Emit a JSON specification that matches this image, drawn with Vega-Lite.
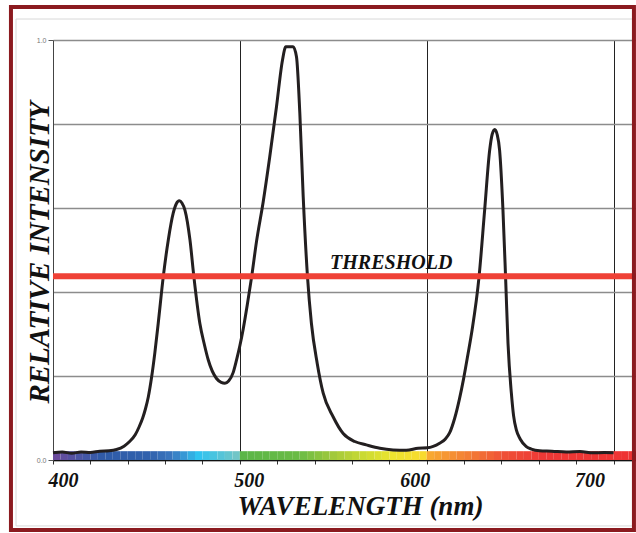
{
  "$schema": "https://vega.github.io/schema/vega-lite/v6.json",
  "width": 583,
  "height": 420,
  "autosize": "none",
  "padding": {"left": 53, "top": 40, "right": 0, "bottom": 73},
  "background": "white",
  "config": {"view": {"stroke": null}, "font": "Liberation Serif"},
  "datasets": {
    "spec": [
      {"wl": 400, "v": 0.017}, {"wl": 405, "v": 0.019}, {"wl": 410, "v": 0.016}, {"wl": 415, "v": 0.019},
      {"wl": 420, "v": 0.018}, {"wl": 425, "v": 0.021}, {"wl": 430, "v": 0.022}, {"wl": 434, "v": 0.025},
      {"wl": 438, "v": 0.033}, {"wl": 441, "v": 0.044}, {"wl": 444, "v": 0.060}, {"wl": 446, "v": 0.078},
      {"wl": 448, "v": 0.100}, {"wl": 449.5, "v": 0.122}, {"wl": 451, "v": 0.150}, {"wl": 452.8, "v": 0.198},
      {"wl": 454.5, "v": 0.255}, {"wl": 456.3, "v": 0.325}, {"wl": 459, "v": 0.436}, {"wl": 461.7, "v": 0.524},
      {"wl": 464.3, "v": 0.587}, {"wl": 466, "v": 0.610}, {"wl": 467.6, "v": 0.617}, {"wl": 469, "v": 0.612},
      {"wl": 470.6, "v": 0.595}, {"wl": 473.3, "v": 0.524}, {"wl": 475.4, "v": 0.436}, {"wl": 478.6, "v": 0.325},
      {"wl": 481, "v": 0.275}, {"wl": 483.1, "v": 0.238}, {"wl": 487.5, "v": 0.194}, {"wl": 490, "v": 0.185},
      {"wl": 492, "v": 0.183}, {"wl": 494, "v": 0.188}, {"wl": 496.4, "v": 0.208}, {"wl": 498.2, "v": 0.238},
      {"wl": 500, "v": 0.272}, {"wl": 501.8, "v": 0.312}, {"wl": 504, "v": 0.370}, {"wl": 506.3, "v": 0.436},
      {"wl": 508.9, "v": 0.520}, {"wl": 512.5, "v": 0.615}, {"wl": 516, "v": 0.722}, {"wl": 519.6, "v": 0.841},
      {"wl": 522.8, "v": 0.952}, {"wl": 524.6, "v": 0.984}, {"wl": 528.5, "v": 0.984}, {"wl": 530.3, "v": 0.960},
      {"wl": 532.1, "v": 0.825}, {"wl": 533.9, "v": 0.627}, {"wl": 536.2, "v": 0.436}, {"wl": 538.3, "v": 0.325},
      {"wl": 541.4, "v": 0.230}, {"wl": 544.6, "v": 0.159}, {"wl": 549.9, "v": 0.103}, {"wl": 555.3, "v": 0.063},
      {"wl": 561.5, "v": 0.044}, {"wl": 567.7, "v": 0.036}, {"wl": 574.9, "v": 0.028}, {"wl": 582, "v": 0.024},
      {"wl": 589.1, "v": 0.023}, {"wl": 595.4, "v": 0.028}, {"wl": 600.3, "v": 0.029}, {"wl": 606.9, "v": 0.040},
      {"wl": 610, "v": 0.050}, {"wl": 612.3, "v": 0.065}, {"wl": 615, "v": 0.100}, {"wl": 617.5, "v": 0.145},
      {"wl": 619.8, "v": 0.195}, {"wl": 622, "v": 0.250}, {"wl": 624.3, "v": 0.310}, {"wl": 628, "v": 0.436},
      {"wl": 631, "v": 0.595}, {"wl": 633.7, "v": 0.738}, {"wl": 635, "v": 0.775}, {"wl": 636.4, "v": 0.787},
      {"wl": 637.7, "v": 0.775}, {"wl": 639, "v": 0.738}, {"wl": 640.8, "v": 0.595}, {"wl": 642.2, "v": 0.436},
      {"wl": 643.5, "v": 0.278}, {"wl": 645.3, "v": 0.159}, {"wl": 646.5, "v": 0.105}, {"wl": 648, "v": 0.071},
      {"wl": 650, "v": 0.050}, {"wl": 653.3, "v": 0.032}, {"wl": 656, "v": 0.026}, {"wl": 660.4, "v": 0.022},
      {"wl": 667, "v": 0.021}, {"wl": 674.7, "v": 0.019}, {"wl": 682, "v": 0.020}, {"wl": 689, "v": 0.017},
      {"wl": 695, "v": 0.018}, {"wl": 700, "v": 0.017}
    ],
    "bar": [
      {"wl": 400, "wl2": 404}, {"wl": 404, "wl2": 408}, {"wl": 408, "wl2": 412}, {"wl": 412, "wl2": 416},
      {"wl": 416, "wl2": 420}, {"wl": 420, "wl2": 424}, {"wl": 424, "wl2": 428}, {"wl": 428, "wl2": 432},
      {"wl": 432, "wl2": 436}, {"wl": 436, "wl2": 440}, {"wl": 440, "wl2": 444}, {"wl": 444, "wl2": 448},
      {"wl": 448, "wl2": 452}, {"wl": 452, "wl2": 456}, {"wl": 456, "wl2": 460}, {"wl": 460, "wl2": 464},
      {"wl": 464, "wl2": 468}, {"wl": 468, "wl2": 472}, {"wl": 472, "wl2": 476}, {"wl": 476, "wl2": 480},
      {"wl": 480, "wl2": 484}, {"wl": 484, "wl2": 488}, {"wl": 488, "wl2": 492}, {"wl": 492, "wl2": 496},
      {"wl": 496, "wl2": 500}, {"wl": 500, "wl2": 504}, {"wl": 504, "wl2": 508}, {"wl": 508, "wl2": 512},
      {"wl": 512, "wl2": 516}, {"wl": 516, "wl2": 520}, {"wl": 520, "wl2": 524}, {"wl": 524, "wl2": 528},
      {"wl": 528, "wl2": 532}, {"wl": 532, "wl2": 536}, {"wl": 536, "wl2": 540}, {"wl": 540, "wl2": 544},
      {"wl": 544, "wl2": 548}, {"wl": 548, "wl2": 552}, {"wl": 552, "wl2": 556}, {"wl": 556, "wl2": 560},
      {"wl": 560, "wl2": 564}, {"wl": 564, "wl2": 568}, {"wl": 568, "wl2": 572}, {"wl": 572, "wl2": 576},
      {"wl": 576, "wl2": 580}, {"wl": 580, "wl2": 584}, {"wl": 584, "wl2": 588}, {"wl": 588, "wl2": 592},
      {"wl": 592, "wl2": 596}, {"wl": 596, "wl2": 600}, {"wl": 600, "wl2": 604}, {"wl": 604, "wl2": 608},
      {"wl": 608, "wl2": 612}, {"wl": 612, "wl2": 616}, {"wl": 616, "wl2": 620}, {"wl": 620, "wl2": 624},
      {"wl": 624, "wl2": 628}, {"wl": 628, "wl2": 632}, {"wl": 632, "wl2": 636}, {"wl": 636, "wl2": 640},
      {"wl": 640, "wl2": 644}, {"wl": 644, "wl2": 648}, {"wl": 648, "wl2": 652}, {"wl": 652, "wl2": 656},
      {"wl": 656, "wl2": 660}, {"wl": 660, "wl2": 664}, {"wl": 664, "wl2": 668}, {"wl": 668, "wl2": 672},
      {"wl": 672, "wl2": 676}, {"wl": 676, "wl2": 680}, {"wl": 680, "wl2": 684}, {"wl": 684, "wl2": 688},
      {"wl": 688, "wl2": 692}, {"wl": 692, "wl2": 696}, {"wl": 696, "wl2": 700}, {"wl": 700, "wl2": 704},
      {"wl": 704, "wl2": 708}, {"wl": 708, "wl2": 712}
    ]
  },
  "layer": [
    {
      "data": {"name": "bar"},
      "mark": {"type": "rect", "strokeWidth": 0},
      "encoding": {
        "x": {"field": "wl", "type": "quantitative"},
        "x2": {"field": "wl2"},
        "y": {"datum": 0, "type": "quantitative"},
        "y2": {"datum": 0.021},
        "color": {
          "field": "wl", "type": "quantitative", "legend": null,
          "scale": {
            "domain": [400, 412, 425, 450, 462, 476, 488, 499, 500, 530, 548, 565, 580, 598, 600, 620, 640, 660, 712],
            "range": ["#6A4A9C", "#4C55A5", "#2F5BA8", "#3161AD", "#3B78C0", "#2FC3F0", "#55C4D8", "#7CC6C0", "#5BB647", "#6ABB45", "#A2C93B", "#CCDB33", "#EEE52F", "#F9D92E", "#F8A832", "#F37E34", "#EF4F36", "#EE3936", "#EE3233"],
            "interpolate": "rgb"
          }
        }
      }
    },
    {
      "data": {"name": "spec"},
      "mark": {"type": "line", "color": "#231F20", "strokeWidth": 3, "interpolate": "monotone"},
      "encoding": {
        "x": {
          "field": "wl", "type": "quantitative",
          "scale": {"domain": [400, 712], "nice": false, "zero": false},
          "axis": {
            "title": "WAVELENGTH (nm)",
            "values": [400, 420, 440, 460, 480, 500, 520, 540, 560, 580, 600, 620, 640, 660, 680, 700],
            "tickCount": 40,
            "labelExpr": "abs(datum.value - 400) < 1 ? '400' : abs(datum.value - 500) < 1 ? '500' : abs(datum.value - 600) < 1 ? '600' : abs(datum.value - 700) < 1 ? '700' : ''",
            "labelFont": "Liberation Serif", "labelFontStyle": "italic", "labelFontWeight": "bold",
            "labelFontSize": 20, "labelColor": "#111", "labelPadding": 6, "labelFlush": false, "labelOverlap": false,
            "labelOffset": {"condition": [
              {"test": "abs(datum.value - 400) < 1", "value": 10},
              {"test": "abs(datum.value - 500) < 1", "value": 9},
              {"test": "abs(datum.value - 600) < 1", "value": -12}
            ], "value": -24},
            "tickSize": 4, "tickColor": "#333", "tickWidth": 1,
            "domainColor": "#111", "domainWidth": 1.5,
            "grid": true, "gridColor": "#222", "gridWidth": 1,
            "gridOpacity": {"condition": {"test": "abs(datum.value - 500) < 1 || abs(datum.value - 600) < 1 || abs(datum.value - 700) < 1", "value": 1}, "value": 0},
            "titleFont": "Liberation Serif", "titleFontStyle": "italic", "titleFontWeight": "bold",
            "titleFontSize": 27, "titleColor": "#111", "titleX": 307, "titleY": 54,
            "titleBaseline": "alphabetic", "titleAlign": "center", "titleAnchor": null
          }
        },
        "y": {
          "field": "v", "type": "quantitative",
          "scale": {"domain": [0, 1], "nice": false},
          "axis": {
            "title": "RELATIVE INTENSITY",
            "values": [0, 0.2, 0.4, 0.6, 0.8, 1],
            "tickCount": 20,
            "format": ".1f",
            "labelExpr": "datum.value < 0.05 || datum.value > 0.95 ? datum.label : ''",
            "labelFont": "Liberation Sans", "labelFontSize": 7, "labelColor": "#777", "labelPadding": 2,
            "tickSize": 5, "tickColor": "#555",
            "tickOpacity": {"condition": {"test": "datum.value < 0.05 || datum.value > 0.95", "value": 1}, "value": 0},
            "domainColor": "#444", "domainWidth": 1,
            "grid": true, "gridColor": "#8c8c8c", "gridWidth": 1.5,
            "titleFont": "Liberation Serif", "titleFontStyle": "italic", "titleFontWeight": "bold",
            "titleFontSize": 29, "titleColor": "#111", "titleX": -5, "titleY": 212, "titleAngle": 270,
            "titleBaseline": "alphabetic", "titleAlign": "center", "titleAnchor": null
          }
        }
      }
    },
    {
      "data": {"values": [{}]},
      "mark": {"type": "rule", "color": "#EF4136", "strokeWidth": 6},
      "encoding": {"y": {"datum": 0.4374, "type": "quantitative"}}
    },
    {
      "data": {"values": [{"label": "THRESHOLD"}]},
      "mark": {"type": "text", "font": "Liberation Serif", "fontStyle": "italic", "fontWeight": "bold", "fontSize": 20, "color": "#111", "align": "center", "baseline": "alphabetic"},
      "encoding": {
        "text": {"field": "label"},
        "x": {"datum": 581, "type": "quantitative"},
        "y": {"datum": 0.455, "type": "quantitative"}
      }
    },
    {
      "data": {"values": [{}]},
      "mark": {"type": "rect", "filled": false, "stroke": "#d8d8d8", "strokeWidth": 1},
      "encoding": {
        "x": {"datum": 380.2, "type": "quantitative"},
        "x2": {"datum": 720},
        "y": {"datum": 1.05, "type": "quantitative"},
        "y2": {"datum": -0.157}
      }
    },
    {
      "data": {"values": [{}]},
      "mark": {"type": "rect", "filled": false, "stroke": "#8B1A1F", "strokeWidth": 4},
      "encoding": {
        "x": {"datum": 377.5, "type": "quantitative"},
        "x2": {"datum": 710.9},
        "y": {"datum": 1.0786, "type": "quantitative"},
        "y2": {"datum": -0.1667}
      }
    }
  ]
}
